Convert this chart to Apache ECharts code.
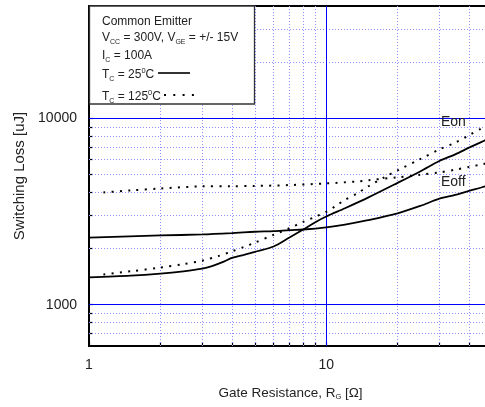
<!DOCTYPE html>
<html>
<head>
<meta charset="utf-8">
<script src="https://cdn.jsdelivr.net/npm/echarts@6.0.0/dist/echarts.min.js"></script>
<style>
html,body{margin:0;padding:0;background:#fff;overflow:hidden;width:485px;height:407px;}
#c{width:492px;height:407px;}
</style>
</head>
<body>
<div id="c"></div>
<script>
// ---- data ----
const rgEon25 = [1, 1.5, 2, 2.5, 3, 3.3, 3.7, 4, 4.5, 5, 6, 7, 8, 9, 10, 12, 15, 20, 25, 30, 35, 40, 45, 50];
const eon25   = [1400, 1430, 1467, 1510, 1560, 1610, 1700, 1780, 1850, 1920, 2050, 2290, 2530, 2770, 2970, 3290, 3750, 4500, 5200, 5900, 6400, 6950, 7450, 7900];

const rgEoff25 = [1, 2, 3, 4, 5, 6, 7, 8, 10, 12, 15, 20, 25, 30, 35, 40, 45, 50];
const eoff25   = [2290, 2350, 2380, 2420, 2460, 2480, 2510, 2530, 2600, 2690, 2840, 3090, 3390, 3700, 3880, 4080, 4250, 4420];

const rgEon125 = [1.15, 1.5, 2, 2.5, 3, 3.5, 4, 4.5, 5, 6, 7, 8, 9, 10, 11, 12, 13.5, 15, 18, 20, 25, 30, 35, 40, 45, 50];
const eon125   = [1450, 1510, 1580, 1650, 1720, 1820, 1930, 2040, 2150, 2370, 2570, 2780, 2960, 3150, 3390, 3650, 3950, 4300, 4900, 5250, 6050, 6800, 7400, 8100, 8800, 9300];

const rgEoff125 = [1.15, 1.5, 2, 3, 4, 5, 7, 10, 13.5, 15, 20, 25, 30, 35, 40, 45, 50];
const eoff125   = [4000, 4100, 4200, 4310, 4320, 4330, 4380, 4470, 4580, 4650, 4820, 4980, 5120, 5300, 5480, 5650, 5800];

const xTickLabels = [1, 10];
const yTickLabels = [1000, 10000];
const xMajorGrid = [10];
const yMajorGrid = [1000, 10000];
const xMinorGrid = [2, 3, 4, 5, 6, 7, 8, 9, 20, 30, 40];
const yMinorGrid = [700, 800, 900, 2000, 3000, 4000, 5000, 6000, 7000, 8000, 9000, 20000, 30000];
const xTicks = [1, 2, 3, 4, 5, 6, 7, 8, 9, 10, 20, 30, 40];
const yTicks = [700, 800, 900, 1000, 2000, 3000, 4000, 5000, 6000, 7000, 8000, 9000, 10000, 20000, 30000];

// ---- chart ----
const FONT = 'Liberation Sans, Arial, sans-serif';
const zip = (xs, ys) => xs.map((x, i) => [x, ys[i]]);
const powLabel = v => {
  const e = Math.log10(v);
  if (Math.abs(e - Math.round(e)) < 1e-6) return String(Math.round(Math.pow(10, Math.round(e))));
  return '';
};

const majorStyle = { color: '#0000ff', width: 1, type: 'solid' };
const minorStyle = { color: '#8f8fff', width: 1, type: [1, 2] };
const gridLines = []
  .concat(xMinorGrid.map(v => ({ xAxis: v, lineStyle: minorStyle })))
  .concat(yMinorGrid.map(v => ({ yAxis: v, lineStyle: minorStyle })))
  .concat(xMajorGrid.map(v => ({ xAxis: v, lineStyle: majorStyle })))
  .concat(yMajorGrid.map(v => ({ yAxis: v, lineStyle: majorStyle })));

const solid = { color: '#000', width: 1.8, type: 'solid' };
const dotted = { color: '#000', width: 2, type: [2, 6.3], cap: 'butt' };

const chart = echarts.init(document.getElementById('c'), null, { renderer: 'canvas' });
chart.setOption({
  animation: false,
  backgroundColor: '#fff',
  textStyle: { fontFamily: FONT },
  grid: { left: 89, top: 6, right: 0, bottom: 61, show: true, borderColor: '#000', borderWidth: 2, backgroundColor: 'transparent' },
  xAxis: {
    type: 'log', logBase: 10, min: 1, max: 50,
    name: '{a|Gate Resistance, R}{s|G}{a| [Ω]}',
    nameLocation: 'middle', nameGap: 39,
    nameTextStyle: {
      rich: {
        a: { fontSize: 13.5, color: '#222', fontFamily: FONT, lineHeight: 16, verticalAlign: 'middle' },
        s: { fontSize: 7.5, color: '#222', fontFamily: FONT, lineHeight: 9, verticalAlign: 'bottom' }
      }
    },
    axisLine: { show: true, onZero: false, lineStyle: { color: '#000', width: 2 } },
    axisTick: { show: true, inside: true, length: 4, customValues: xTicks, lineStyle: { color: '#000', width: 1.2 } },
    axisLabel: { customValues: xTickLabels, formatter: powLabel, fontSize: 14, color: '#222', margin: 12, fontFamily: FONT },
    splitLine: { show: false },
    minorTick: { show: false }, minorSplitLine: { show: false }
  },
  yAxis: {
    type: 'log', logBase: 10, min: 600, max: 40000,
    name: 'Switching Loss [uJ]',
    nameLocation: 'middle', nameGap: 54, nameRotate: 90,
    nameTextStyle: { fontSize: 15, color: '#222', fontFamily: FONT },
    axisLine: { show: true, onZero: false, lineStyle: { color: '#000', width: 2 } },
    axisTick: { show: true, inside: true, length: 4, customValues: yTicks, lineStyle: { color: '#000', width: 1.2 } },
    axisLabel: { customValues: yTickLabels, formatter: powLabel, fontSize: 14, color: '#222', margin: 12, fontFamily: FONT },
    splitLine: { show: false },
    minorTick: { show: false }, minorSplitLine: { show: false }
  },
  series: [
    {
      name: 'grid', type: 'line', data: [], z: 1, silent: true,
      markLine: { silent: true, symbol: 'none', z: 1, label: { show: false }, animation: false, data: gridLines }
    },
    { name: 'Eon 25', type: 'line', z: 3, data: zip(rgEon25, eon25), symbol: 'none', smooth: 0.3, lineStyle: solid },
    { name: 'Eoff 25', type: 'line', z: 3, data: zip(rgEoff25, eoff25), symbol: 'none', smooth: 0.3, lineStyle: solid },
    { name: 'Eon 125', type: 'line', z: 3, data: zip(rgEon125, eon125), symbol: 'none', smooth: 0.3, lineStyle: dotted },
    { name: 'Eoff 125', type: 'line', z: 3, data: zip(rgEoff125, eoff125), symbol: 'none', smooth: 0.3, lineStyle: dotted }
  ],
  graphic: [
    { type: 'text', z: 50, x: 441, y: 122, style: { text: 'Eon', fontSize: 14, fill: '#222', fontFamily: FONT, verticalAlign: 'middle' } },
    { type: 'text', z: 50, x: 441, y: 182, style: { text: 'Eoff', fontSize: 14, fill: '#222', fontFamily: FONT, verticalAlign: 'middle' } },
    {
      type: 'group', z: 100,
      children: (function () {
        const rich = {
          m: { fontSize: 12, fill: '#222', fontFamily: FONT, lineHeight: 16, verticalAlign: 'middle' },
          s: { fontSize: 7, fill: '#222', fontFamily: FONT, lineHeight: 8, verticalAlign: 'bottom' },
          p: { fontSize: 7.5, fill: '#222', fontFamily: FONT, lineHeight: 8, verticalAlign: 'top' }
        };
        const t = (txt, y) => ({ type: 'text', z: 101, x: 102, y: y, style: { text: txt, rich: rich, verticalAlign: 'middle', align: 'left', fontFamily: FONT } });
        return [
          { type: 'rect', z: 100, shape: { x: 89.5, y: 6, width: 165, height: 98 }, style: { fill: '#fff', stroke: '#333', lineWidth: 1.3 } },
          t('{m|Common Emitter}', 21.5),
          t('{m|V}{s|CC}{m| = 300V, V}{s|GE}{m| = +/- 15V}', 38),
          t('{m|I}{s|C}{m| = 100A}', 55.5),
          t('{m|T}{s|C}{m| = 25}{p|0}{m|C}', 74.5),
          t('{m|T}{s|C}{m| = 125}{p|0}{m|C}', 96.5),
          { type: 'line', z: 101, shape: { x1: 158, y1: 73, x2: 190, y2: 73 }, style: { stroke: '#000', lineWidth: 1.6 } },
          { type: 'line', z: 101, shape: { x1: 164, y1: 95, x2: 195, y2: 95 }, style: { stroke: '#000', lineWidth: 2, lineDash: [2, 7.3] } }
        ];
      })()
    }
  ]
});
</script>
</body>
</html>
